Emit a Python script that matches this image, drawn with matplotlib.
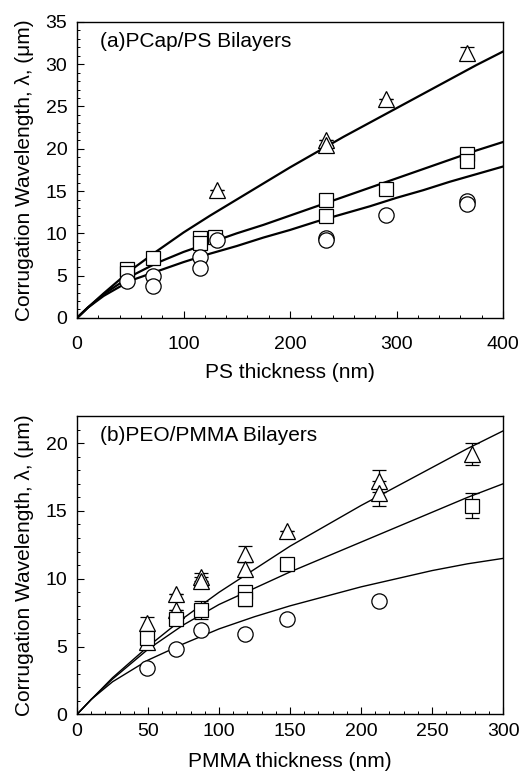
import numpy as np
import matplotlib
matplotlib.use("Agg")
import matplotlib.pyplot as plt
from matplotlib.ticker import MultipleLocator

plt.rcParams['font.family'] = ['Liberation Sans', 'DejaVu Sans']

# ---- (a) PCap/PS bilayers ----
tri_x_a = [131, 234, 234, 290, 366]
tri_y_a = [15.1, 21.0, 20.5, 25.9, 31.3]
tri_err_a = [0, 0, 0, 0, 0.7]
sq_x_a = [47, 47, 71, 115, 115, 130, 234, 234, 290, 366, 366]
sq_y_a = [5.8, 5.3, 7.1, 9.5, 8.9, 9.6, 13.9, 12.1, 15.2, 19.4, 18.6]
circ_x_a = [47, 71, 71, 115, 115, 131, 234, 234, 290, 366, 366]
circ_y_a = [4.4, 4.9, 3.8, 7.2, 5.9, 9.2, 9.5, 9.2, 12.2, 13.8, 13.5]

# model curves
fit_x_a = [0, 10, 25, 50, 75, 100, 125, 150, 175, 200, 225, 250, 275, 300, 325, 350, 375, 400]
fit_top_a = [0, 1.2, 2.9, 5.6, 7.9, 10.1, 12.1, 14.0, 15.9, 17.8, 19.6, 21.4, 23.1, 24.8, 26.5, 28.2, 29.9, 31.5]
fit_mid_a = [0, 1.2, 2.8, 4.9, 6.5, 7.8, 8.9, 10.0, 11.0, 12.1, 13.2, 14.3, 15.4, 16.5, 17.6, 18.7, 19.8, 20.8]
fit_low_a = [0, 1.2, 2.6, 4.4, 5.5, 6.6, 7.6, 8.5, 9.5, 10.4, 11.4, 12.3, 13.2, 14.2, 15.1, 16.1, 17.0, 17.9]

# ---- (b) PEO/PMMA bilayers ----
tri_x_b = [49, 49, 70, 70, 87, 87, 118, 118, 148, 213, 213, 278]
tri_y_b = [6.7, 5.3, 8.9, 7.7, 10.1, 9.8, 11.8, 10.7, 13.5, 17.2, 16.3, 19.2]
tri_err_b = [0.5, 0, 0, 0, 0.3, 0.3, 0.6, 0.5, 0, 0.8, 0.9, 0.8]
sq_x_b = [49, 70, 87, 118, 118, 148, 278]
sq_y_b = [5.6, 7.0, 7.7, 9.0, 8.5, 11.1, 15.4]
sq_err_b = [0.4, 0.2, 0.65, 0.5, 0.5, 0, 0.95]
circ_x_b = [49, 70, 87, 118, 148, 213]
circ_y_b = [3.4, 4.85, 6.25, 5.9, 7.0, 8.35]

fit_x_b = [0, 10, 25, 50, 75, 100, 125, 150, 175, 200, 225, 250, 275, 300]
fit_top_b = [0, 1.1, 2.7, 5.0, 7.1, 9.0, 10.7, 12.4, 13.9, 15.4, 16.8, 18.2, 19.6, 20.9]
fit_mid_b = [0, 1.1, 2.6, 4.8, 6.6, 8.1, 9.3, 10.5, 11.6, 12.7, 13.8, 14.9, 16.0, 17.0]
fit_low_b = [0, 1.1, 2.4, 4.0, 5.2, 6.3, 7.2, 8.0, 8.7, 9.4, 10.0, 10.6, 11.1, 11.5]

ylabel = 'Corrugation Wavelength, λ, (μm)'
mk = dict(mfc='white', mec='black', ls='none', mew=0.9)

fig = plt.figure(figsize=(5.24, 7.83), dpi=100)
ax1 = fig.add_axes([0.147, 0.594, 0.813, 0.378])
ax2 = fig.add_axes([0.147, 0.0877, 0.813, 0.381])

# panel a
for fy in (fit_top_a, fit_mid_a, fit_low_a):
    ax1.plot(fit_x_a, fy, color='black', lw=1.6, zorder=2)
ax1.errorbar(tri_x_a, tri_y_a, yerr=tri_err_a, marker='^', ms=11, ecolor='black',
             elinewidth=0.9, capsize=5, zorder=3, **mk)
ax1.plot(sq_x_a, sq_y_a, marker='s', ms=10, zorder=3, **mk)
ax1.plot(circ_x_a, circ_y_a, marker='o', ms=11, zorder=3, **mk)
ax1.set_xlim(0, 400)
ax1.set_ylim(0, 35)
ax1.xaxis.set_major_locator(MultipleLocator(100))
ax1.xaxis.set_minor_locator(MultipleLocator(20))
ax1.yaxis.set_major_locator(MultipleLocator(5))
ax1.yaxis.set_minor_locator(MultipleLocator(1))
ax1.tick_params(axis='x', which='major', pad=13)
ax1.set_xlabel('PS thickness (nm)', fontsize=15, labelpad=7)
ax1.text(0.055, 0.965, '(a)PCap/PS Bilayers', transform=ax1.transAxes,
         fontsize=15, va='top', ha='left')

# panel b
for fy in (fit_top_b, fit_mid_b, fit_low_b):
    ax2.plot(fit_x_b, fy, color='black', lw=1.0, zorder=2)
ax2.errorbar(tri_x_b, tri_y_b, yerr=tri_err_b, marker='^', ms=11, ecolor='black',
             elinewidth=0.9, capsize=5, zorder=3, **mk)
ax2.errorbar(sq_x_b, sq_y_b, yerr=sq_err_b, marker='s', ms=10, ecolor='black',
             elinewidth=0.9, capsize=5, zorder=3, **mk)
ax2.plot(circ_x_b, circ_y_b, marker='o', ms=11, zorder=3, **mk)
ax2.set_xlim(0, 300)
ax2.set_ylim(0, 22)
ax2.xaxis.set_major_locator(MultipleLocator(50))
ax2.xaxis.set_minor_locator(MultipleLocator(10))
ax2.yaxis.set_major_locator(MultipleLocator(5))
ax2.yaxis.set_minor_locator(MultipleLocator(1))
ax2.tick_params(axis='x', which='major', pad=6)
ax2.set_xlabel('PMMA thickness (nm)', fontsize=15, labelpad=9)
ax2.text(0.055, 0.965, '(b)PEO/PMMA Bilayers', transform=ax2.transAxes,
         fontsize=15, va='top', ha='left')

for ax in (ax1, ax2):
    ax.set_ylabel(ylabel, fontsize=15, labelpad=8)
    ax.tick_params(which='both', direction='in', top=False, right=False, labelsize=14)
    ax.tick_params(which='major', length=5, width=0.8)
    ax.tick_params(which='minor', length=2.5, width=0.7)
    ax.tick_params(axis='y', which='major', pad=7)
    for s in ax.spines.values():
        s.set_linewidth(1.0)

fig.savefig('out.png', dpi=100)
